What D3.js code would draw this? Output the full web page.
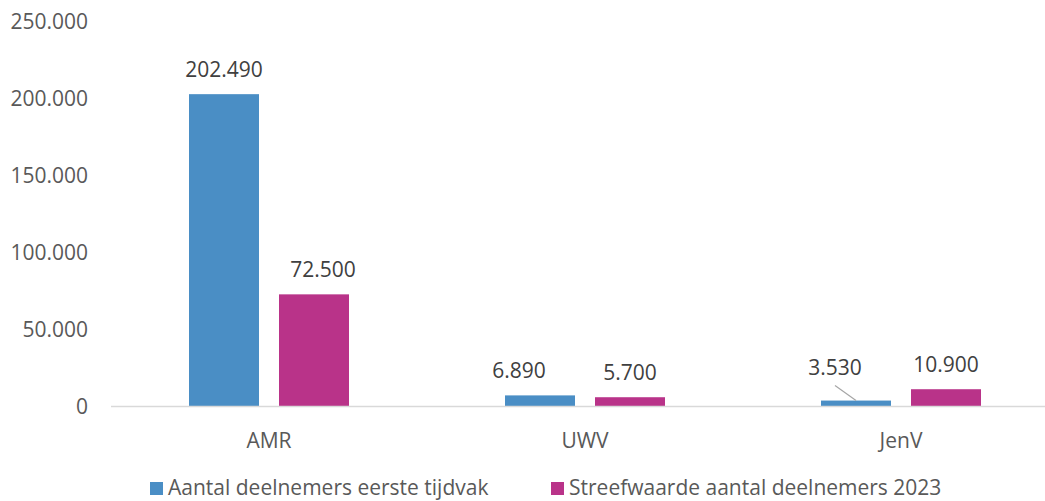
<!DOCTYPE html>
<html lang="nl">
  <head>
    <meta charset="UTF-8" />
    <title>Deelnemers per regeling</title>
    <script src="https://d3js.org/d3.v7.min.js"></script>
    <style>
      body {
        margin: 0;
        background: #ffffff;
      }
      svg text {
        font-family: "Open Sans", "Noto Sans", sans-serif;
      }
    </style>
  </head>
  <body>
    <svg id="chart" width="1045" height="501"></svg>
    <script>
      // data
      var categories = ["AMR", "UWV", "JenV"];
      var seriesNames = [
        "Aantal deelnemers eerste tijdvak",
        "Streefwaarde aantal deelnemers 2023",
      ];
      var eersteTijdvak = [202490, 6890, 3530];
      var streefwaarde2023 = [72500, 5700, 10900];
      var yTicks = [0, 50000, 100000, 150000, 200000, 250000];

      var colors = ["#4a8ec5", "#b93389"];
      var fontSize = 21;

      var svg = d3.select("#chart");

      // y scale: 0 at baseline, 250.000 at top tick
      var y = d3.scaleLinear().domain([0, 250000]).range([406, 21]);

      // category bands (the last band runs past the right edge, as in the original)
      var x = d3
        .scaleBand()
        .domain(categories)
        .range([111, 1059])
        .paddingInner(0)
        .paddingOuter(0);

      // two bars of 70px with a 20px gap, centred in each band
      var inner = d3
        .scaleBand()
        .domain([0, 1])
        .range([x.bandwidth() / 2 - 80, x.bandwidth() / 2 + 80])
        .paddingInner(20 / 90);

      var fmt = function (v) {
        return d3.format(",")(v).replace(/,/g, ".");
      };

      // y axis labels (no line, no gridlines)
      svg
        .append("g")
        .selectAll("text")
        .data(yTicks)
        .enter()
        .append("text")
        .attr("x", 88)
        .attr("y", function (d) {
          return y(d);
        })
        .attr("dy", "0.36em")
        .attr("text-anchor", "end")
        .attr("font-size", fontSize)
        .attr("fill", "#595959")
        .text(fmt);

      // rows for the bars
      var rows = [];
      categories.forEach(function (c, i) {
        rows.push({ cat: c, s: 0, v: eersteTijdvak[i] });
        rows.push({ cat: c, s: 1, v: streefwaarde2023[i] });
      });

      // labels nudged by hand in the original
      var nudge = {
        "AMR-1": [9, 0],
        "UWV-0": [-21, 0],
        "JenV-0": [-21, -8],
      };

      var bars = svg.append("g");
      bars
        .selectAll("rect")
        .data(rows)
        .enter()
        .append("rect")
        .attr("x", function (d) {
          return x(d.cat) + inner(d.s);
        })
        .attr("y", function (d) {
          return y(d.v);
        })
        .attr("width", inner.bandwidth())
        .attr("height", function (d) {
          return y(0) - y(d.v);
        })
        .attr("fill", function (d) {
          return colors[d.s];
        });

      // baseline
      svg
        .append("line")
        .attr("x1", 111)
        .attr("x2", 1045)
        .attr("y1", y(0) + 0.5)
        .attr("y2", y(0) + 0.5)
        .attr("stroke", "#d9d9d9")
        .attr("stroke-width", 1.5);

      // leader line for the small JenV label
      var jen = rows[4];
      var jx = x(jen.cat) + inner(0) + inner.bandwidth() / 2;
      svg
        .append("line")
        .attr("x1", jx - 21)
        .attr("y1", y(jen.v) - 15)
        .attr("x2", jx)
        .attr("y2", y(jen.v))
        .attr("stroke", "#a6a6a6")
        .attr("stroke-width", 1.2);

      // value labels
      svg
        .append("g")
        .selectAll("text")
        .data(rows)
        .enter()
        .append("text")
        .attr("x", function (d) {
          var n = nudge[d.cat + "-" + d.s] || [0, 0];
          return x(d.cat) + inner(d.s) + inner.bandwidth() / 2 + n[0];
        })
        .attr("y", function (d) {
          var n = nudge[d.cat + "-" + d.s] || [0, 0];
          return y(d.v) - 25 + n[1];
        })
        .attr("dy", "0.36em")
        .attr("text-anchor", "middle")
        .attr("font-size", fontSize)
        .attr("fill", "#404040")
        .text(function (d) {
          return fmt(d.v);
        });

      // category labels
      svg
        .append("g")
        .selectAll("text")
        .data(categories)
        .enter()
        .append("text")
        .attr("x", function (d) {
          return x(d) + x.bandwidth() / 2;
        })
        .attr("y", 440)
        .attr("dy", "0.36em")
        .attr("text-anchor", "middle")
        .attr("font-size", fontSize)
        .attr("fill", "#595959")
        .text(function (d) {
          return d;
        });

      // legend
      var legendX = [150, 551];
      var legend = svg
        .append("g")
        .selectAll("g")
        .data(seriesNames)
        .enter()
        .append("g")
        .attr("transform", function (d, i) {
          return "translate(" + legendX[i] + ",0)";
        });
      legend
        .append("rect")
        .attr("x", 0)
        .attr("y", 482)
        .attr("width", 13)
        .attr("height", 13)
        .attr("fill", function (d, i) {
          return colors[i];
        });
      legend
        .append("text")
        .attr("x", 18)
        .attr("y", 487)
        .attr("dy", "0.36em")
        .attr("font-size", fontSize)
        .attr("fill", "#595959")
        .text(function (d) {
          return d;
        });
    </script>
  </body>
</html>
